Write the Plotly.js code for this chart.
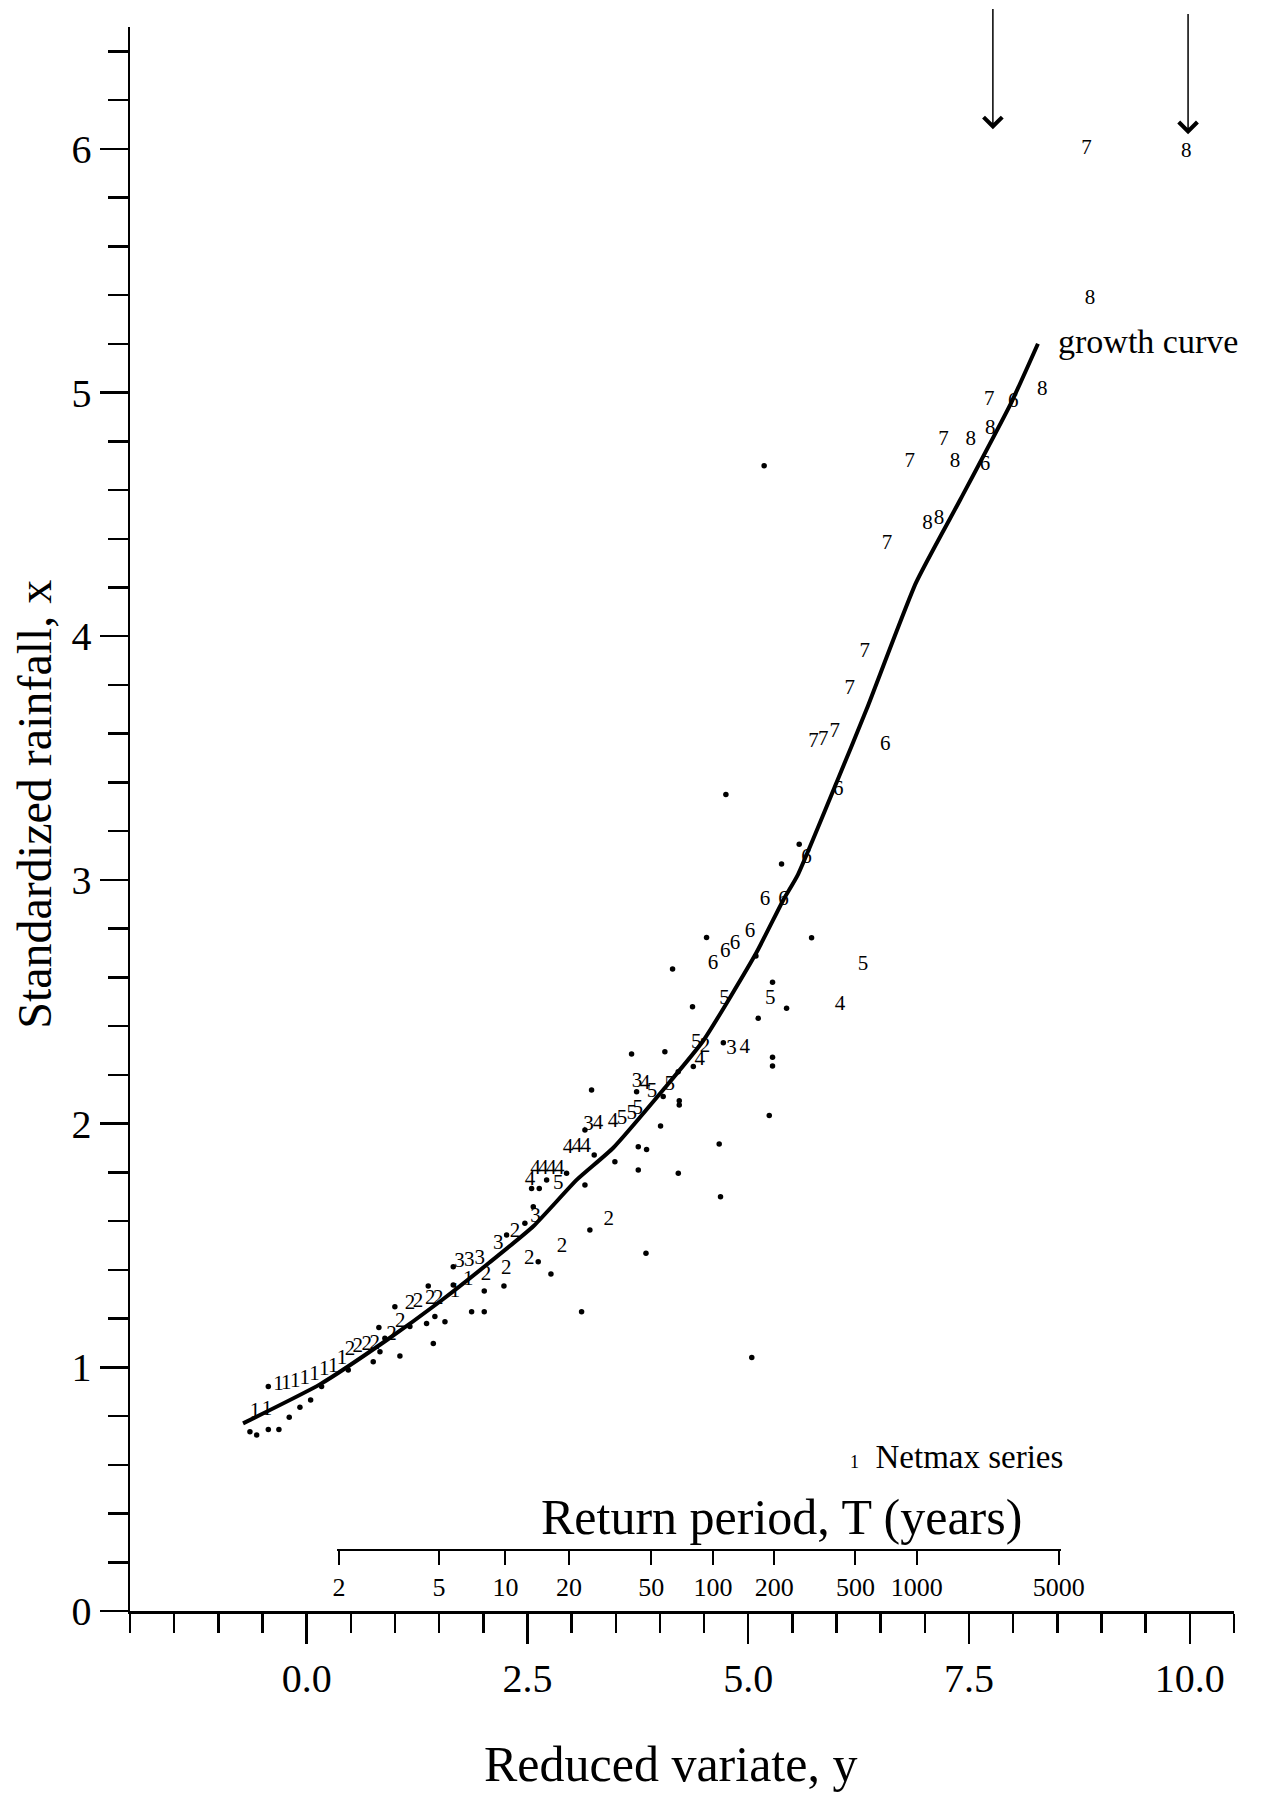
<!DOCTYPE html>
<html>
<head>
<meta charset="utf-8">
<script src="https://cdn.plot.ly/plotly-3.0.1.min.js"></script>
<style>
html,body{margin:0;padding:0;background:#fff;}
#chart{width:1269px;height:1795px;}
</style>
</head>
<body>
<div id="chart"></div>
<script>
// ---- Growth curve (reduced variate y, standardized rainfall x) ----
const curveX = [-0.72, 0.15, 0.90, 1.51, 2.07, 2.57, 3.06, 3.47, 4.04, 4.49, 5.09, 5.40, 5.56, 6.00, 6.34, 6.90, 7.40, 7.98, 8.28];
const curveY = [0.77, 0.93, 1.11, 1.27, 1.43, 1.58, 1.77, 1.90, 2.14, 2.34, 2.70, 2.92, 3.02, 3.40, 3.70, 4.22, 4.56, 4.96, 5.20];

// ---- Numbered points (series 1..8) ----
const s1X = [-0.585, -0.45, -0.32, -0.23, -0.13, -0.02, 0.09, 0.20, 0.30, 0.40, 1.68, 1.83];
const s1Y = [0.818, 0.825, 0.927, 0.934, 0.941, 0.955, 0.968, 0.989, 1.003, 1.037, 1.31, 1.358];

const s2X = [0.49, 0.58, 0.68, 0.77, 0.96, 1.06, 1.17, 1.26, 1.40, 1.49, 2.03, 2.26, 2.52, 2.89, 3.42, 2.36, 4.51];
const s2Y = [1.071, 1.085, 1.091, 1.098, 1.133, 1.187, 1.262, 1.269, 1.283, 1.283, 1.379, 1.406, 1.447, 1.495, 1.604, 1.557, 2.316];

const s3X = [1.73, 1.84, 1.96, 2.17, 2.59, 3.19, 3.74, 4.81];
const s3Y = [1.433, 1.438, 1.447, 1.509, 1.618, 1.994, 2.172, 2.309];

const s4X = [2.53, 2.59, 2.68, 2.77, 2.86, 2.96, 3.06, 3.16, 3.30, 3.47, 3.83, 4.45, 4.96, 6.04];
const s4Y = [1.769, 1.816, 1.816, 1.816, 1.816, 1.899, 1.905, 1.905, 2.001, 2.008, 2.165, 2.261, 2.310, 2.487];

const s5X = [2.85, 3.57, 3.68, 3.75, 3.91, 4.11, 4.41, 4.73, 5.25, 6.30];
const s5Y = [1.755, 2.022, 2.042, 2.063, 2.131, 2.158, 2.330, 2.514, 2.514, 2.651];

const s6X = [4.60, 4.74, 4.85, 5.02, 5.19, 5.40, 5.66, 6.02, 6.55, 7.68, 8.00];
const s6Y = [2.658, 2.706, 2.740, 2.788, 2.918, 2.918, 3.089, 3.369, 3.554, 4.703, 4.962];

const s7X = [5.74, 5.85, 5.98, 6.15, 6.32, 6.57, 6.83, 7.21, 7.73, 8.83];
const s7Y = [3.567, 3.574, 3.608, 3.786, 3.937, 4.381, 4.716, 4.805, 4.969, 6.002];

const s8X = [7.03, 7.16, 7.34, 7.52, 7.74, 8.33, 8.87, 9.96];
const s8Y = [4.463, 4.484, 4.716, 4.805, 4.853, 5.010, 5.386, 5.988];

// ---- Unlabelled points (dots) ----
const dotsX = [-0.642, -0.566, -0.434, -0.314, -0.434, -0.197, -0.076, 0.045, 0.169, 0.471, 0.754, 1.056, 0.830, 0.818, 0.999, 1.169, 1.358, 1.434, 1.452, 1.377, 1.566, 1.868, 2.011, 2.011, 2.234, 1.660, 2.622, 2.766, 2.566, 2.264, 2.471, 2.547, 2.634, 2.717, 2.943, 3.151, 3.207, 3.113, 3.256, 3.151, 3.490, 3.226, 3.679, 3.736, 3.755, 3.849, 3.755, 3.842, 0.886, 1.660,
  5.377, 4.528, 4.143, 5.717, 4.369, 5.275, 5.113, 5.434, 4.056, 4.378, 4.718, 5.275, 5.275, 4.037, 4.219, 4.219, 4.007, 5.238, 4.671, 4.208, 4.686, 5.087, 4.207,
  4.747, 5.577, 5.18, 5.04];
const dotsY = [0.736, 0.722, 0.745, 0.745, 0.921, 0.795, 0.836, 0.866, 0.921, 0.989, 1.023, 1.046, 1.064, 1.163, 1.249, 1.167, 1.180, 1.098, 1.208, 1.334, 1.187, 1.228, 1.228, 1.313, 1.334, 1.413, 1.433, 1.383, 1.659, 1.543, 1.591, 1.734, 1.734, 1.769, 1.796, 1.748, 1.563, 1.228, 1.871, 1.974, 1.844, 2.138, 2.286, 2.131, 1.905, 1.894, 1.810, 1.468, 1.119, 1.338,
  3.065, 2.764, 2.634, 2.763, 2.480, 2.580, 2.432, 2.473, 2.295, 2.234, 2.332, 2.272, 2.236, 2.111, 2.094, 2.076, 1.990, 2.033, 1.916, 1.796, 1.700, 2.688, 2.213,
  3.351, 3.146, 4.70, 1.04];

// ---- Return period scale ----
const returnPeriods = [2, 5, 10, 20, 50, 100, 200, 500, 1000, 5000];
const returnScaleLevel = 0.25;   // standardized-rainfall level where the T scale is drawn

const FONT = 'Liberation Serif, Times New Roman, serif';
const gumbel = T => -Math.log(-Math.log(1 - 1 / T));
const rpX = returnPeriods.map(gumbel);

const X_RANGE = [-2, 10.5];
const Y_RANGE = [0, 6.5];
const pad = 0.02;
const rpLo = rpX[0] - pad, rpHi = rpX[rpX.length - 1] + pad;
const span = X_RANGE[1] - X_RANGE[0];

function numTrace(xs, ys, label) {
  return {
    x: xs, y: ys, mode: 'text', type: 'scatter',
    text: xs.map(() => label), textposition: 'middle center',
    textfont: {family: FONT, size: 21, color: '#000'},
    hoverinfo: 'skip', showlegend: false, cliponaxis: false
  };
}

const data = [
  {x: dotsX, y: dotsY, mode: 'markers', type: 'scatter',
   marker: {size: 5.5, color: '#000'}, hoverinfo: 'skip', showlegend: false},
  numTrace(s1X, s1Y, '1'), numTrace(s2X, s2Y, '2'), numTrace(s3X, s3Y, '3'),
  numTrace(s4X, s4Y, '4'), numTrace(s5X, s5Y, '5'), numTrace(s6X, s6Y, '6'),
  numTrace(s7X, s7Y, '7'), numTrace(s8X, s8Y, '8'),
  {x: curveX, y: curveY, mode: 'lines', type: 'scatter', name: 'growth curve',
   line: {color: '#000', width: 4, shape: 'spline', smoothing: 0.5}, hoverinfo: 'skip', showlegend: false},
  {x: rpX, y: rpX.map(() => returnScaleLevel), xaxis: 'x2', yaxis: 'y', mode: 'markers', type: 'scatter',
   marker: {opacity: 0, size: 1}, hoverinfo: 'skip', showlegend: false}
];

const axisCommon = {
  showline: true, linecolor: '#000', linewidth: 2.5, showgrid: false, zeroline: false,
  ticks: 'outside', tickcolor: '#000', tickwidth: 2.5,
  tickfont: {family: FONT, size: 40, color: '#000'}
};

const layout = {
  width: 1269, height: 1795, autosize: false,
  margin: {l: 130, r: 35, t: 27, b: 184, pad: 0},
  paper_bgcolor: '#fff', plot_bgcolor: 'rgba(0,0,0,0)',
  showlegend: false,
  font: {family: FONT, color: '#000'},
  xaxis: Object.assign({}, axisCommon, {
    range: X_RANGE, domain: [0, 1], tick0: 0, dtick: 2.5, tickformat: '.1f', ticklen: 30,
    minor: {tick0: 0, dtick: 0.5, ticks: 'outside', ticklen: 19, tickwidth: 2.5, tickcolor: '#000', showgrid: false}
  }),
  yaxis: Object.assign({}, axisCommon, {
    range: Y_RANGE, domain: [0, 1], tick0: 0, dtick: 1, ticklen: 28,
    minor: {tick0: 0, dtick: 0.2, ticks: 'outside', ticklen: 20, tickwidth: 2.5, tickcolor: '#000', showgrid: false}
  }),
  xaxis2: {
    anchor: 'free', position: (returnScaleLevel - Y_RANGE[0]) / (Y_RANGE[1] - Y_RANGE[0]),
    domain: [(rpLo - X_RANGE[0]) / span, (rpHi - X_RANGE[0]) / span],
    range: [rpLo, rpHi], side: 'bottom',
    showline: true, linecolor: '#000', linewidth: 2, showgrid: false, zeroline: false,
    ticks: 'outside', ticklen: 14, tickwidth: 2, tickcolor: '#000',
    tickmode: 'array', tickvals: rpX, ticktext: returnPeriods.map(String),
    tickfont: {family: FONT, size: 26, color: '#000'}
  },
  annotations: [
    {text: 'Standardized rainfall, x', xref: 'paper', yref: 'paper', x: -0.086, y: 0.509,
     textangle: -90, showarrow: false, xanchor: 'center', yanchor: 'middle',
     font: {family: FONT, size: 48, color: '#000'}},
    {text: 'Reduced variate, y', xref: 'paper', yref: 'paper', x: 0.490, y: -0.0966,
     showarrow: false, xanchor: 'center', yanchor: 'middle',
     font: {family: FONT, size: 50, color: '#000'}},
    {text: 'Return period, T (years)', xref: 'x', yref: 'y', x: 5.38, y: 0.385,
     showarrow: false, xanchor: 'center', yanchor: 'middle',
     font: {family: FONT, size: 50, color: '#000'}},
    {text: 'growth curve', xref: 'x', yref: 'y', x: 8.48, y: 5.21,
     showarrow: false, xanchor: 'left', yanchor: 'middle',
     font: {family: FONT, size: 34, color: '#000'}},
    {text: '<span style="font-size:18px">1</span>  Netmax series', xref: 'x', yref: 'y', x: 6.13, y: 0.63,
     showarrow: false, xanchor: 'left', yanchor: 'middle',
     font: {family: FONT, size: 33, color: '#000'}},
    {text: '', xref: 'x', yref: 'y', axref: 'x', ayref: 'y', x: 7.77, y: 6.08, ax: 7.77, ay: 6.58,
     showarrow: true, arrowhead: 4, arrowsize: 2.4, arrowwidth: 1.5, arrowcolor: '#000', standoff: 0},
    {text: '', xref: 'x', yref: 'y', axref: 'x', ayref: 'y', x: 9.98, y: 6.06, ax: 9.98, ay: 6.56,
     showarrow: true, arrowhead: 4, arrowsize: 2.4, arrowwidth: 1.5, arrowcolor: '#000', standoff: 0}
  ]
};

Plotly.newPlot('chart', data, layout, {staticPlot: true, displayModeBar: false});
</script>
</body>
</html>
